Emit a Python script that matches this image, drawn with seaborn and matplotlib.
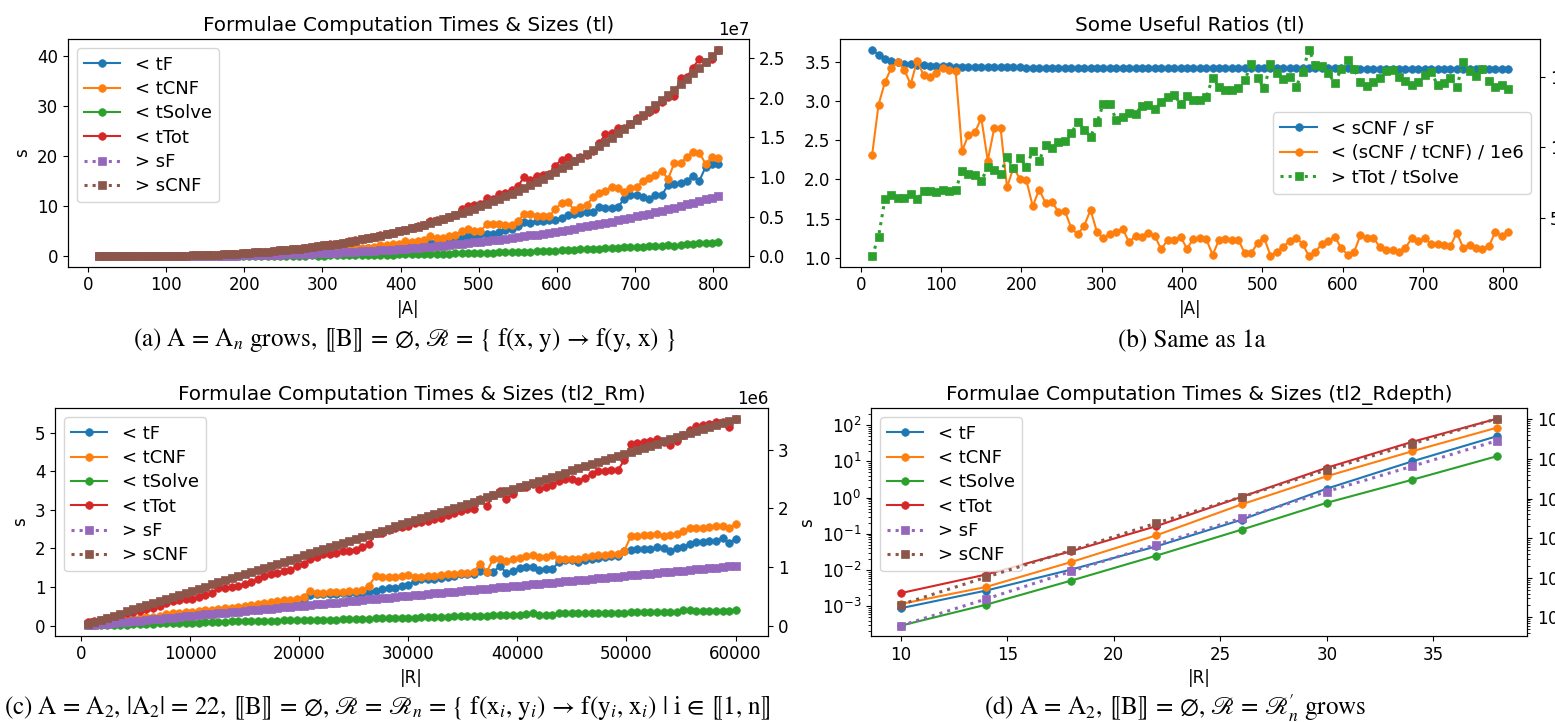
import numpy as np
import seaborn as sns
import matplotlib.pyplot as plt
from matplotlib.patches import Rectangle

# ---------------- (a) / (b): |A| grows ----------------
a_x = np.arange(14, 807, 8)

a_tF = [0.0001, 0.0004, 0.0013, 0.0026, 0.0054, 0.0087, 0.0125, 0.0178, 0.0254, 0.034,
        0.044, 0.057, 0.071, 0.088, 0.098, 0.121, 0.145, 0.174, 0.189, 0.235,
        0.268, 0.271, 0.323, 0.359, 0.396, 0.406, 0.484, 0.517, 0.573, 0.605,
        0.670, 0.654, 0.682, 0.80, 0.966, 0.90, 0.929, 1.049, 1.143, 1.273,
        1.183, 1.372, 1.469, 1.642, 1.69, 1.504, 1.856, 1.979, 2.165, 1.964,
        2.379, 2.542, 2.672, 2.604, 3.107, 3.168, 3.304, 3.48, 3.638, 4.076,
        4.0, 4.4, 4.4, 4.4, 4.9, 5.3, 5.5, 6.0, 6.8, 6.6,
        7.0, 7.0, 7.2, 7.3, 7.6, 8.2, 8.5, 8.6, 8.8, 8.8,
        9.8, 9.6, 9.6, 9.8, 11.5, 12.3, 12.3, 11.8, 11.5, 12.2,
        12.2, 14.2, 14.5, 14.6, 15.1, 16.0, 15.0, 17.8, 18.5, 18.5]

a_tCNF = [0.0001, 0.0002, 0.0004, 0.0008, 0.0014, 0.0023, 0.0037, 0.0049, 0.0071, 0.0096,
          0.0123, 0.0154, 0.0195, 0.0242, 0.042, 0.047, 0.055, 0.060, 0.088, 0.086,
          0.099, 0.158, 0.159, 0.192, 0.219, 0.294, 0.291, 0.356, 0.392, 0.466,
          0.51, 0.648, 0.753, 0.758, 0.723, 0.951, 1.096, 1.14, 1.203, 1.258,
          1.545, 1.555, 1.68, 1.729, 1.906, 2.345, 2.255, 2.399, 2.47, 2.973,
          2.847, 2.991, 3.19, 4.02, 3.588, 3.754, 3.989, 4.199, 5.126, 5.388,
          5.04, 4.995, 6.407, 6.403, 6.351, 6.209, 6.287, 7.015, 8.474, 8.353,
          7.973, 8.039, 8.045, 9.415, 10.646, 10.763, 9.281, 9.873, 10.254, 11.765,
          12.651, 13.121, 13.855, 13.722, 12.849, 13.63, 13.769, 15.09, 15.606, 16.271,
          17.107, 15.397, 18.574, 18.519, 19.788, 20.782, 20.688, 18.443, 19.751, 19.586]

a_tSolve = [0.0001, 0.0002, 0.0003, 0.0006, 0.0012, 0.002, 0.0028, 0.0043, 0.0055, 0.0073,
            0.0097, 0.012, 0.0154, 0.0187, 0.0191, 0.0237, 0.0283, 0.0353, 0.0365, 0.0434,
            0.0517, 0.0514, 0.0639, 0.0667, 0.0808, 0.0798, 0.0962, 0.0953, 0.108, 0.114,
            0.124, 0.13, 0.132, 0.152, 0.173, 0.172, 0.167, 0.182, 0.214, 0.227,
            0.238, 0.257, 0.264, 0.281, 0.307, 0.315, 0.326, 0.344, 0.383, 0.39,
            0.422, 0.449, 0.467, 0.476, 0.505, 0.528, 0.557, 0.581, 0.636, 0.636,
            0.683, 0.732, 0.73, 0.753, 0.84, 0.841, 0.932, 0.91, 0.933, 0.967,
            1.015, 1.067, 1.134, 1.164, 1.191, 1.273, 1.296, 1.377, 1.385, 1.407,
            1.458, 1.569, 1.634, 1.74, 1.773, 1.801, 1.821, 1.821, 1.994, 2.007,
            2.063, 2.228, 1.995, 2.307, 2.372, 2.418, 2.678, 2.712, 2.729, 2.91]

a_tTot = [0.0002, 0.0008, 0.002, 0.004, 0.008, 0.013, 0.019, 0.027, 0.038, 0.051,
          0.066, 0.084, 0.106, 0.131, 0.159, 0.192, 0.228, 0.269, 0.314, 0.364,
          0.419, 0.48, 0.546, 0.618, 0.696, 0.78, 0.871, 0.968, 1.073, 1.185,
          1.304, 1.432, 1.567, 1.71, 1.862, 2.023, 2.192, 2.371, 2.56, 2.758,
          2.966, 3.184, 3.413, 3.652, 3.903, 4.164, 4.437, 4.722, 5.018, 5.327,
          5.648, 5.982, 6.329, 7.10, 7.20, 7.45, 7.85, 8.26, 9.40, 10.10,
          10.2, 10.4, 11.6, 11.5, 12.5, 12.6, 13.3, 14.0, 15.8, 15.3,
          16.0, 16.3, 16.5, 18.1, 19.3, 19.8, 19.0, 19.8, 20.3, 21.0,
          22.5, 24.3, 24.5, 25.6, 25.6, 26.4, 27.6, 27.9, 28.8, 29.3,
          30.8, 31.8, 32.0, 35.6, 35.7, 37.6, 39.4, 38.7, 39.4, 41.2]

# sizes, in millions
a_sF = [0.00004, 0.00015, 0.00038, 0.00078, 0.00139, 0.00226, 0.00342, 0.00493, 0.00684, 0.00917,
        0.0120, 0.01535, 0.01924, 0.0238, 0.0290, 0.0349, 0.0415, 0.0490, 0.0572, 0.0664,
        0.0765, 0.0875, 0.0996, 0.1127, 0.1269, 0.1423, 0.1589, 0.1767, 0.1958, 0.2163,
        0.2382, 0.2614, 0.2861, 0.3123, 0.3400, 0.3694, 0.4004, 0.4331, 0.4675, 0.5037,
        0.5417, 0.5816, 0.6234, 0.6671, 0.7129, 0.7607, 0.8105, 0.8626, 0.9168, 0.9732,
        1.0319, 1.0929, 1.1563, 1.2221, 1.2903, 1.3610, 1.4342, 1.5101, 1.5885, 1.6697,
        1.7557, 1.8424, 1.9320, 2.0243, 2.1196, 2.2178, 2.3190, 2.4233, 2.5306, 2.6410,
        2.7546, 2.8715, 2.9916, 3.1150, 3.2418, 3.3720, 3.5056, 3.6427, 3.7833, 3.9275,
        4.0754, 4.2269, 4.3821, 4.5412, 4.7040, 4.8707, 5.0413, 5.2158, 5.3944, 5.5770,
        5.7693, 5.9601, 6.1549, 6.3540, 6.5573, 6.7649, 6.9768, 7.1932, 7.4139, 7.6391]

a_sCNF = [0.00014, 0.00053, 0.00134, 0.00273, 0.00484, 0.00783, 0.01186, 0.01706, 0.02361, 0.03164,
          0.04132, 0.0528, 0.0662, 0.0817, 0.0995, 0.1197, 0.1424, 0.1679, 0.1962, 0.2276,
          0.2621, 0.2999, 0.3412, 0.3862, 0.4349, 0.4876, 0.5443, 0.6053, 0.6707, 0.7406,
          0.8152, 0.8948, 0.9792, 1.0688, 1.1638, 1.2642, 1.3703, 1.4821, 1.5998, 1.7236,
          1.8537, 1.9901, 2.1330, 2.2827, 2.4391, 2.6026, 2.7732, 2.9511, 3.1365, 3.3294,
          3.5302, 3.7388, 3.9555, 4.1804, 4.4137, 4.6555, 4.9059, 5.1652, 5.4334, 5.7109,
          5.9976, 6.2937, 6.5994, 6.9149, 7.2402, 7.5756, 7.9212, 8.2772, 8.6436, 9.0207,
          9.4087, 9.8076, 10.2176, 10.6389, 11.0716, 11.5159, 11.9719, 12.4398, 12.9198, 13.4119,
          13.9164, 14.4334, 14.9630, 15.5054, 16.0608, 16.6292, 17.2109, 17.8061, 18.4148, 19.0372,
          19.6735, 20.3238, 20.9883, 21.6671, 22.3604, 23.0683, 23.7910, 24.5287, 25.2815, 26.0494]

b_sCNF_sF = [3.653, 3.589, 3.534, 3.504, 3.491, 3.474, 3.466, 3.457, 3.453, 3.449,
             3.445, 3.441, 3.439, 3.436, 3.434, 3.432, 3.431, 3.430, 3.429, 3.428,
             3.427, 3.427, 3.426, 3.426, 3.425, 3.425, 3.424, 3.424, 3.424, 3.423,
             3.423, 3.423, 3.422, 3.422, 3.422, 3.421, 3.421, 3.421, 3.420, 3.420,
             3.420, 3.420, 3.419, 3.419, 3.419, 3.419, 3.418, 3.418, 3.418, 3.418,
             3.417, 3.417, 3.417, 3.417, 3.417, 3.416, 3.416, 3.416, 3.416, 3.416,
             3.415, 3.415, 3.415, 3.415, 3.415, 3.414, 3.414, 3.414, 3.414, 3.414,
             3.413, 3.413, 3.413, 3.413, 3.413, 3.412, 3.412, 3.412, 3.412, 3.412,
             3.412, 3.411, 3.411, 3.411, 3.411, 3.411, 3.411, 3.410, 3.410, 3.410,
             3.410, 3.410, 3.410, 3.410, 3.409, 3.409, 3.409, 3.409, 3.409, 3.409]

b_sCNF_tCNF = [2.31, 2.95, 3.24, 3.42, 3.50, 3.40, 3.21, 3.51, 3.33, 3.31,
               3.35, 3.42, 3.39, 3.38, 2.36, 2.57, 2.60, 2.78, 2.24, 2.65,
               2.65, 1.90, 2.15, 2.01, 1.99, 1.66, 1.87, 1.70, 1.71, 1.59,
               1.60, 1.38, 1.30, 1.41, 1.61, 1.33, 1.25, 1.30, 1.33, 1.37,
               1.20, 1.28, 1.27, 1.32, 1.28, 1.11, 1.23, 1.23, 1.27, 1.12,
               1.24, 1.25, 1.24, 1.04, 1.23, 1.24, 1.23, 1.23, 1.06, 1.06,
               1.19, 1.26, 1.03, 1.08, 1.14, 1.22, 1.26, 1.18, 1.02, 1.08,
               1.18, 1.22, 1.27, 1.13, 1.04, 1.07, 1.29, 1.26, 1.26, 1.14,
               1.10, 1.10, 1.08, 1.13, 1.25, 1.22, 1.25, 1.18, 1.18, 1.17,
               1.15, 1.32, 1.13, 1.17, 1.13, 1.11, 1.15, 1.33, 1.28, 1.33]

b_tTot_tSolve = [2.28, 3.67, 6.33, 6.61, 6.44, 6.39, 6.67, 6.33, 6.94, 6.94,
                 6.83, 7.00, 6.89, 7.00, 8.33, 8.11, 8.05, 7.61, 8.61, 8.39,
                 8.11, 9.33, 8.55, 9.27, 8.61, 9.77, 9.05, 10.16, 9.94, 10.38,
                 10.49, 10.99, 11.83, 11.27, 10.77, 11.77, 13.10, 13.05, 11.94, 12.16,
                 12.44, 12.38, 12.94, 12.99, 12.71, 13.21, 13.60, 13.71, 13.10, 13.66,
                 13.38, 13.33, 13.55, 14.93, 14.27, 14.10, 14.10, 14.21, 14.77, 15.88,
                 14.93, 14.21, 15.88, 15.27, 14.88, 14.99, 14.27, 15.38, 16.93, 15.82,
                 15.77, 15.27, 14.55, 15.55, 16.21, 15.55, 14.66, 14.38, 14.66, 14.93,
                 15.43, 15.49, 14.99, 14.71, 14.44, 14.66, 15.16, 15.32, 14.44, 14.60,
                 14.93, 14.27, 16.04, 15.43, 15.05, 15.55, 14.71, 14.27, 14.44, 14.16]

# ---------------- (c): |R| grows (tl2_Rm) ----------------
c_x = np.arange(600, 60001, 600)

c_tF = [0.03, 0.05, 0.07, 0.09, 0.11, 0.13, 0.15, 0.17, 0.18, 0.20,
        0.21, 0.23, 0.26, 0.29, 0.30, 0.32, 0.33, 0.35, 0.37, 0.39,
        0.40, 0.42, 0.44, 0.46, 0.48, 0.50, 0.52, 0.54, 0.56, 0.58,
        0.62, 0.62, 0.65, 0.68, 0.79, 0.81, 0.81, 0.81, 0.82, 0.84,
        0.84, 0.85, 0.86, 0.88, 0.91, 0.95, 0.97, 0.98, 1.03, 1.05,
        1.16, 1.20, 1.20, 1.22, 1.24, 1.25, 1.28, 1.34, 1.34, 1.35,
        1.42, 1.40, 1.40, 1.54, 1.37, 1.41, 1.50, 1.53, 1.53, 1.45,
        1.47, 1.47, 1.64, 1.70, 1.70, 1.66, 1.70, 1.74, 1.76, 1.78,
        1.80, 1.80, 1.94, 1.96, 1.98, 1.98, 1.98, 2.03, 2.00, 1.94,
        2.00, 2.04, 2.11, 2.17, 2.17, 2.19, 2.20, 2.26, 2.15, 2.24]

c_tCNF = [0.04, 0.06, 0.08, 0.10, 0.12, 0.14, 0.16, 0.18, 0.20, 0.22,
          0.23, 0.25, 0.30, 0.32, 0.33, 0.35, 0.36, 0.38, 0.40, 0.42,
          0.44, 0.45, 0.47, 0.49, 0.51, 0.54, 0.56, 0.59, 0.62, 0.65,
          0.66, 0.66, 0.68, 0.75, 0.91, 0.85, 0.85, 0.87, 0.87, 0.88,
          0.89, 0.91, 0.92, 1.04, 1.28, 1.25, 1.25, 1.27, 1.28, 1.31,
          1.27, 1.27, 1.28, 1.29, 1.31, 1.33, 1.34, 1.37, 1.37, 1.40,
          1.61, 1.40, 1.74, 1.72, 1.67, 1.72, 1.76, 1.80, 1.83, 1.78,
          1.79, 1.83, 1.74, 1.72, 1.72, 1.74, 1.78, 1.81, 1.83, 1.83,
          1.85, 1.85, 1.94, 2.32, 2.33, 2.34, 2.36, 2.37, 2.32, 2.34,
          2.37, 2.46, 2.52, 2.52, 2.54, 2.56, 2.59, 2.58, 2.54, 2.63]

c_tSolve = [0.01, 0.01, 0.02, 0.02, 0.03, 0.03, 0.03, 0.04, 0.04, 0.05,
            0.05, 0.06, 0.06, 0.07, 0.07, 0.07, 0.08, 0.08, 0.09, 0.09,
            0.10, 0.10, 0.11, 0.11, 0.11, 0.12, 0.12, 0.13, 0.13, 0.13,
            0.14, 0.14, 0.14, 0.15, 0.15, 0.15, 0.16, 0.16, 0.16, 0.17,
            0.17, 0.18, 0.18, 0.18, 0.19, 0.19, 0.20, 0.20, 0.21, 0.21,
            0.21, 0.22, 0.22, 0.23, 0.23, 0.23, 0.24, 0.24, 0.25, 0.25,
            0.26, 0.26, 0.27, 0.27, 0.28, 0.28, 0.29, 0.30, 0.32, 0.29,
            0.29, 0.29, 0.32, 0.32, 0.32, 0.34, 0.32, 0.32, 0.32, 0.32,
            0.34, 0.34, 0.34, 0.35, 0.35, 0.35, 0.36, 0.35, 0.35, 0.36,
            0.36, 0.41, 0.40, 0.39, 0.39, 0.39, 0.39, 0.39, 0.39, 0.41]

c_tTot = [0.09, 0.12, 0.15, 0.19, 0.23, 0.27, 0.32, 0.36, 0.39, 0.43,
          0.47, 0.52, 0.58, 0.63, 0.66, 0.68, 0.69, 0.75, 0.79, 0.85,
          0.97, 0.97, 1.01, 1.04, 1.08, 1.12, 1.21, 1.28, 1.34, 1.37,
          1.41, 1.44, 1.55, 1.61, 1.72, 1.78, 1.85, 1.85, 1.87, 1.94,
          1.94, 1.97, 2.04, 2.11, 2.39, 2.41, 2.47, 2.52, 2.56, 2.59,
          2.65, 2.69, 2.72, 2.75, 2.78, 2.86, 2.92, 2.97, 3.02, 3.02,
          3.28, 3.09, 3.38, 3.49, 3.28, 3.41, 3.58, 3.59, 3.66, 3.54,
          3.59, 3.64, 3.75, 3.79, 3.79, 3.74, 3.83, 3.92, 4.00, 4.01,
          4.03, 4.03, 4.28, 4.70, 4.73, 4.76, 4.78, 4.84, 4.76, 4.69,
          4.78, 4.93, 5.06, 5.16, 5.19, 5.23, 5.28, 5.28, 5.15, 5.36]

# sizes, in millions
c_sF = [0.010, 0.020, 0.031, 0.041, 0.051, 0.061, 0.072, 0.082, 0.092, 0.102,
        0.113, 0.123, 0.133, 0.143, 0.154, 0.164, 0.174, 0.184, 0.195, 0.205,
        0.215, 0.225, 0.236, 0.246, 0.256, 0.266, 0.276, 0.287, 0.297, 0.307,
        0.317, 0.328, 0.338, 0.348, 0.358, 0.369, 0.379, 0.389, 0.399, 0.410,
        0.420, 0.430, 0.440, 0.451, 0.461, 0.471, 0.481, 0.492, 0.502, 0.512,
        0.522, 0.532, 0.543, 0.553, 0.563, 0.573, 0.584, 0.594, 0.604, 0.614,
        0.625, 0.635, 0.645, 0.655, 0.666, 0.676, 0.686, 0.696, 0.707, 0.717,
        0.727, 0.737, 0.748, 0.758, 0.768, 0.778, 0.788, 0.799, 0.809, 0.819,
        0.829, 0.840, 0.850, 0.860, 0.870, 0.881, 0.891, 0.901, 0.911, 0.922,
        0.932, 0.942, 0.952, 0.963, 0.973, 0.983, 0.993, 1.004, 1.014, 1.024]

c_sCNF = [0.035, 0.071, 0.106, 0.141, 0.177, 0.212, 0.247, 0.282, 0.318, 0.353,
          0.388, 0.424, 0.459, 0.494, 0.530, 0.565, 0.600, 0.635, 0.671, 0.706,
          0.741, 0.777, 0.812, 0.847, 0.883, 0.918, 0.953, 0.988, 1.024, 1.059,
          1.094, 1.130, 1.165, 1.200, 1.236, 1.271, 1.306, 1.341, 1.377, 1.412,
          1.447, 1.483, 1.518, 1.553, 1.589, 1.624, 1.659, 1.694, 1.730, 1.765,
          1.800, 1.836, 1.871, 1.906, 1.942, 1.977, 2.012, 2.047, 2.083, 2.118,
          2.153, 2.189, 2.224, 2.259, 2.295, 2.330, 2.365, 2.400, 2.436, 2.471,
          2.506, 2.542, 2.577, 2.612, 2.648, 2.683, 2.718, 2.753, 2.789, 2.824,
          2.859, 2.895, 2.930, 2.965, 3.001, 3.036, 3.071, 3.106, 3.142, 3.177,
          3.212, 3.248, 3.283, 3.318, 3.354, 3.389, 3.424, 3.459, 3.495, 3.530]

# ---------------- (d): depth grows (tl2_Rdepth), log scale ----------------
d_x = [10, 14, 18, 22, 26, 30, 34, 38]
d_tF = [0.00088, 0.0027, 0.0103, 0.045, 0.245, 1.77, 10.0, 50.0]
d_tCNF = [0.00115, 0.0034, 0.0166, 0.091, 0.65, 3.9, 19.0, 86.0]
d_tSolve = [0.00029, 0.0011, 0.0051, 0.025, 0.13, 0.72, 3.1, 14.0]
d_tTot = [0.0023, 0.0075, 0.033, 0.163, 1.05, 6.7, 34.6, 152.0]
d_sF = [617, 2900, 14500, 69000, 320000, 1.5e6, 6.5e6, 2.9e7]
d_sCNF = [2100, 10300, 49000, 240000, 1.1e6, 5.3e6, 2.4e7, 1.04e8]

C = sns.color_palette('tab10')

plt.rcParams.update({
    'xtick.labelsize': 12, 'ytick.labelsize': 12,
    'axes.titlesize': 14.4, 'axes.labelsize': 12,
    'legend.fontsize': 13, 'legend.labelspacing': 0.35,
})

fig = plt.figure(figsize=(15.55, 7.22), dpi=100)
W, H = 1555.0, 722.0


def rect(l, r, t, b):
    return [l / W, 1 - b / H, (r - l) / W, (b - t) / H]


def panel(box, x, left, right, title, xlabel, ylabel, loc, log=False):
    ax = fig.add_axes(box)
    ax2 = ax.twinx()
    for lab, vals, col in left:
        sns.lineplot(x=x, y=vals, ax=ax, color=col, label=lab, marker='o',
                     markersize=5.5, linewidth=1.5, markeredgecolor=col, markeredgewidth=0.5)
    for lab, vals, col in right:
        sns.lineplot(x=x, y=vals, ax=ax2, color=col, label=lab, marker='s', linestyle=':',
                     markersize=6, linewidth=2.2, markeredgecolor=col, markeredgewidth=0.5)
    if log:
        ax.set_yscale('log')
        ax2.set_yscale('log')
    ax.set_title(title)
    ax.set_xlabel(xlabel)
    ax.set_ylabel(ylabel)
    ax2.set_ylabel('')
    h1, l1 = ax.get_legend_handles_labels()
    h2, l2 = ax2.get_legend_handles_labels()
    if ax2.get_legend() is not None:
        ax2.get_legend().remove()
    ax.legend(h1 + h2, l1 + l2, loc=loc)
    return ax, ax2


M = 1e6
panel(rect(67.9, 749, 39.3, 266.7), a_x,
      [('< tF', a_tF, C[0]), ('< tCNF', a_tCNF, C[1]),
       ('< tSolve', a_tSolve, C[2]), ('< tTot', a_tTot, C[3])],
      [('> sF', np.array(a_sF) * M, C[4]), ('> sCNF', np.array(a_sCNF) * M, C[5])],
      'Formulae Computation Times & Sizes (tl)', '|A|', 's', 'upper left')

panel(rect(840.3, 1540, 39.3, 266.7), a_x,
      [('< sCNF / sF', b_sCNF_sF, C[0]), ('< (sCNF / tCNF) / 1e6', b_sCNF_tCNF, C[1])],
      [('> tTot / tSolve', b_tTot_tSolve, C[2])],
      'Some Useful Ratios (tl)', '|A|', '', 'center right')

panel(rect(55.1, 768, 408.3, 635.7), c_x,
      [('< tF', c_tF, C[0]), ('< tCNF', c_tCNF, C[1]),
       ('< tSolve', c_tSolve, C[2]), ('< tTot', c_tTot, C[3])],
      [('> sF', np.array(c_sF) * M, C[4]), ('> sCNF', np.array(c_sCNF) * M, C[5])],
      'Formulae Computation Times & Sizes (tl2_Rm)', '|R|', 's', 'upper left')

panel(rect(871, 1527, 408.3, 636), d_x,
      [('< tF', d_tF, C[0]), ('< tCNF', d_tCNF, C[1]),
       ('< tSolve', d_tSolve, C[2]), ('< tTot', d_tTot, C[3])],
      [('> sF', d_sF, C[4]), ('> sCNF', d_sCNF, C[5])],
      'Formulae Computation Times & Sizes (tl2_Rdepth)', '|R|', 's', 'upper left', log=True)

# sub-figure captions
cap = dict(fontsize=18, family='STIXGeneral', math_fontfamily='stix', va='center', zorder=2)
fig.text(404 / W, 1 - 340 / H, r'(a) A = A$_n$ grows, ⟦B⟧ = ∅, ℛ = { f(x, y) → f(y, x) }', ha='center', **cap)
fig.text(1192 / W, 1 - 340 / H, '(b) Same as 1a', ha='center', **cap)
fig.text(4 / W, 1 - 708 / H,
         r'(c) A = A$_2$, |A$_2$| = 22, ⟦B⟧ = ∅, ℛ = ℛ$_n$ = { f(x$_i$, y$_i$) → f(y$_i$, x$_i$) | i ∈ ⟦1, n⟧ }',
         ha='left', **cap)
fig.text(1175 / W, 1 - 708 / H, r"(d) A = A$_2$, ⟦B⟧ = ∅, ℛ = ℛ$_n^{\prime}$ grows", ha='center', **cap)
# the caption of (c) is cut by the neighbouring sub-figure in the original
fig.patches.append(Rectangle((778 / W, 0), 200 / W, 32 / H, transform=fig.transFigure,
                             facecolor='white', edgecolor='none', zorder=5))

fig.savefig('out.png', dpi=100)
